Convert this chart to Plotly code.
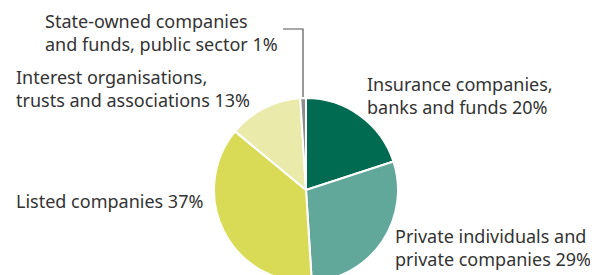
import plotly.graph_objects as go

categories = ["Insurance companies,<br>banks and funds",
              "Private individuals and<br>private companies",
              "Listed companies",
              "Interest organisations,<br>trusts and associations",
              "State-owned companies<br>and funds, public sector"]
values = [20, 29, 37, 13, 1]
colors = ["#006B50", "#61A89A", "#D9DB57", "#EAEAAA", "#8C8C8C"]

W, H = 590, 292
OFF = 8  # page body margin
def px(x): return (x - OFF) / W
def py(y): return 1 - (y - OFF) / H

cx, cy, r = 306, 190, 92

fig = go.Figure(go.Pie(
    labels=categories, values=values, sort=False, direction="clockwise", rotation=0,
    marker=dict(colors=colors, line=dict(color="white", width=2)),
    textinfo="none", hoverinfo="label+percent",
    domain=dict(x=[px(cx - r), px(cx + r)], y=[py(cy + r), py(cy - r)]),
    showlegend=False,
))

# label positions (page pixels: left x, top y)
label_pos = [(365, 70), (393, 222), (14, 187), (14, 63), (43, 7)]
font = dict(family="Noto Sans, Open Sans, sans-serif", size=18, color="#333333")
for lab, v, (x, y) in zip(categories, values, label_pos):
    fig.add_annotation(x=px(x), y=py(y), xref="paper", yref="paper",
                       xanchor="left", yanchor="top", align="left",
                       text=f"{lab} {v}%", showarrow=False, font=font)

fig.add_shape(type="path", xref="paper", yref="paper",
              path=f"M {px(283)} {py(29)} L {px(303)} {py(29)} L {px(303)} {py(97)}",
              line=dict(color="#555555", width=1.2))

fig.update_layout(width=W, height=H, margin=dict(l=0, r=0, t=0, b=0),
                  paper_bgcolor="white", plot_bgcolor="white")
fig.write_html("out.html")
